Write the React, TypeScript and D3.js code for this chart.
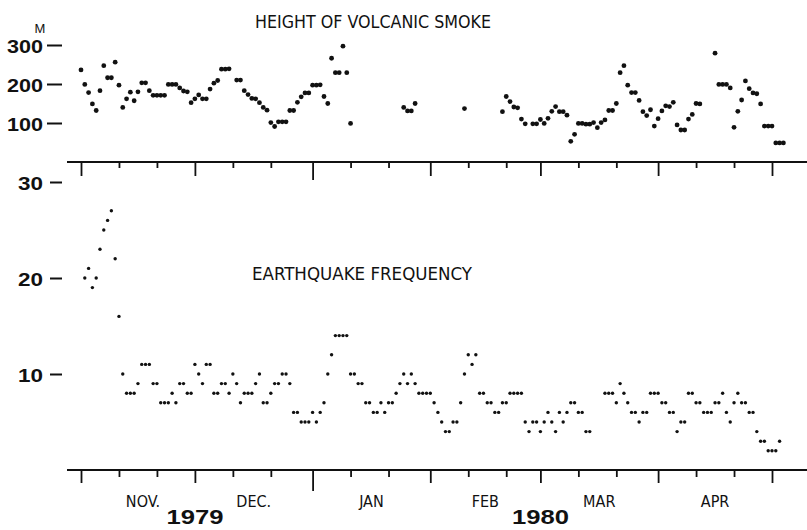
import * as React from "react";
import * as d3 from "d3";

// daily series, index 0 = 1 Nov 1979, null = no observation
const smokeHeight: (number | null)[] = [
  236, 199, 178, 149, 132, 183, 247, 216, 216, 256,
  197, 140, 162, 179, 157, 180, 203, 203, 183, 171,
  171, 171, 171, 199, 199, 199, 190, 182, 180, 152,
  162, 172, 162, 162, 187, 202, 209, 238, 238, 239,
  null, 210, 210, 183, 173, 163, 162, 152, 140, 133,
  101, 91, 103, 103, 103, 132, 132, 153, 167, 177,
  177, 197, 197, 198, 168, 150, 266, 229, 229, 297,
  229, 99, null, null, null, null, null, null, null, null,
  null, null, null, null, null, 140, 131, 131, 150, null,
  null, null, null, null, null, null, null, null, null, null,
  null, 137, null, null, null, null, null, null, null, null,
  null, 129, 168, 155, 141, 139, 110, 98, null, 98,
  98, 109, 99, 112, 130, 142, 129, 129, 120, 53,
  71, 99, 99, 97, 97, 101, 88, 101, 108, 132,
  132, 150, 229, 247, 197, 178, 178, 158, 129, 119,
  134, 92, 111, 131, 144, 142, 153, 95, 82, 82,
  110, 122, 150, 149, null, null, null, 279, 199, 199,
  199, 190, 89, 130, 159, 208, 188, 177, 175, 149,
  92, 92, 92, 49, 49, 49,
];

const quakeCount: (number | null)[] = [
  null, 20, 21, 19, 20, 23, 25, 26, 27, 22,
  16, 10, 8, 8, 8, 9, 11, 11, 11, 9,
  9, 7, 7, 7, 8, 7, 9, 9, 8, 8,
  11, 10, 9, 11, 11, 8, 8, 9, 9, 8,
  10, 9, 7, 8, 8, 8, 9, 10, 7, 7,
  8, 9, 9, 10, 10, 9, 6, 6, 5, 5,
  5, 6, 5, 6, 7, 10, 12, 14, 14, 14,
  14, 10, 10, 9, 9, 7, 7, 6, 6, 7,
  6, 7, 7, 8, 9, 10, 9, 10, 9, 8,
  8, 8, 8, 7, 6, 5, 4, 4, 5, 5,
  7, 10, 12, 11, 12, 8, 8, 7, 7, 6,
  6, 7, 7, 8, 8, 8, 8, 5, 4, 5,
  5, 4, 5, 6, 5, 4, 6, 5, 6, 7,
  7, 6, 6, 4, 4, null, null, null, 8, 8,
  8, 7, 9, 8, 7, 6, 6, 5, 6, 6,
  8, 8, 8, 7, 7, 6, 6, 4, 5, 5,
  8, 8, 7, 7, 6, 6, 6, 7, 7, 8,
  6, 5, 7, 8, 7, 7, 6, 6, 4, 3,
  3, 2, 2, 2, 3,
];

const smokeTicks = [100, 200, 300];
const quakeTicks = [10, 20, 30];
const monthLabels = ["NOV.", "DEC.", "JAN", "FEB", "MAR", "APR"];
const yearLabels = ["1979", "1980"];

const start = new Date(Date.UTC(1979, 10, 1));
const end = new Date(Date.UTC(1980, 4, 1));

const ink = "#111";
const numFont = "'Liberation Sans', Arial, sans-serif";
const narrowFont = "'DejaVu Sans Condensed', 'Liberation Sans Narrow', 'Roboto Condensed', 'DejaVu Sans', sans-serif";

function drawChart(el: SVGSVGElement) {
  const svg = d3.select(el);
  svg.selectAll("*").remove();

  const x = d3.scaleUtc().domain([start, end]).range([81, 772]);
  const ySmoke = d3.scaleLinear().domain([0, 300]).range([162, 45]);
  const yQuake = d3.scaleLinear().domain([0, 30]).range([470, 182]);
  const dayDate = (i: number) => d3.utcDay.offset(start, i);

  // ticks on the 1st, 11th and 21st of each month
  const tickDates = d3.utcDays(start, new Date(+end + 1)).filter(d => [1, 11, 21].includes(d.getUTCDate()));

  const timeAxis = (y: number, major: number, year: number, minor: number) => {
    svg.append("line")
      .attr("x1", 67).attr("x2", 807).attr("y1", y).attr("y2", y)
      .attr("stroke", ink).attr("stroke-width", 2);
    const g = svg.append("g").attr("transform", `translate(0,${y})`)
      .call(d3.axisBottom(x).tickValues(tickDates).tickFormat(() => "").tickSizeOuter(0));
    g.select(".domain").remove();
    g.selectAll<SVGLineElement, Date>(".tick line")
      .attr("stroke", ink).attr("stroke-width", 1.8)
      .attr("y2", d => d.getUTCDate() !== 1 ? minor : d.getUTCMonth() === 0 ? year : major);
  };
  timeAxis(162, 14, 18, 6);
  timeAxis(470, 13, 21, 7);

  const valueAxis = (scale: d3.ScaleLinear<number, number>, ticks: number[], size: number, pad: number) => {
    const g = svg.append("g").attr("transform", "translate(62,0)")
      .call(d3.axisLeft(scale).tickValues(ticks).tickSize(size).tickPadding(pad));
    g.select(".domain").remove();
    g.selectAll(".tick line").attr("stroke", ink).attr("stroke-width", 2);
    g.selectAll(".tick text")
      .attr("fill", ink).attr("font-family", numFont).attr("font-weight", "bold")
      .attr("font-size", 19).attr("dy", "0.42em").attr("textLength", ticks[0] >= 100 ? 36 : 25)
      .attr("lengthAdjust", "spacingAndGlyphs");
  };
  valueAxis(ySmoke, smokeTicks, 15, 4);
  valueAxis(yQuake, quakeTicks, 12, 7);

  svg.append("text").attr("x", 40).attr("y", 33).attr("text-anchor", "middle")
    .attr("font-family", numFont).attr("font-size", 13).attr("fill", ink).text("M");

  // points
  svg.append("g").selectAll("circle")
    .data(smokeHeight.map((v, i) => [i, v] as [number, number | null]).filter(d => d[1] != null))
    .join("circle")
    .attr("cx", d => x(dayDate(d[0])))
    .attr("cy", d => ySmoke(d[1] as number))
    .attr("r", 2.4).attr("fill", ink);

  svg.append("g").selectAll("circle")
    .data(quakeCount.map((v, i) => [i, v] as [number, number | null]).filter(d => d[1] != null))
    .join("circle")
    .attr("cx", d => x(dayDate(d[0])))
    .attr("cy", d => yQuake(d[1] as number))
    .attr("r", 1.7).attr("fill", ink);

  // titles
  const title = (t: string, tx: number, ty: number, w: number) =>
    svg.append("text").attr("x", tx).attr("y", ty)
      .attr("font-family", narrowFont).attr("font-size", 18).attr("fill", ink)
      .attr("textLength", w).attr("lengthAdjust", "spacingAndGlyphs").text(t);
  title("HEIGHT OF VOLCANIC SMOKE", 255, 28, 236);
  title("EARTHQUAKE FREQUENCY", 252, 280, 220);

  // month names centred between month ticks
  const months = d3.utcMonths(start, end);
  svg.append("g").selectAll("text").data(months).join("text")
    .attr("x", d => (x(d) + x(d3.utcMonth.offset(d, 1))) / 2 + (d.getUTCMonth() === 10 ? 5 : 0))
    .attr("y", 507).attr("text-anchor", "middle")
    .attr("font-family", narrowFont).attr("font-size", 16).attr("fill", ink)
    .text((d, i) => monthLabels[i]);

  // years under the 1 Dec and 1 Mar ticks
  const yearAt = [new Date(Date.UTC(1979, 11, 1)), new Date(Date.UTC(1980, 2, 1))];
  svg.append("g").selectAll("text").data(yearLabels).join("text")
    .attr("x", (d, i) => x(yearAt[i]))
    .attr("y", 524).attr("text-anchor", "middle")
    .attr("font-family", numFont).attr("font-weight", "bold").attr("font-size", 20)
    .attr("textLength", 57).attr("lengthAdjust", "spacingAndGlyphs")
    .attr("fill", ink).text(d => d);
}

const App = () => {
  const ref = React.useRef<SVGSVGElement>(null);
  React.useEffect(() => {
    if (ref.current) drawChart(ref.current);
  }, []);

  return (
    <svg ref={ref} width={807} height={530}
      style={{ position: "absolute", left: 0, top: 0, background: "#fff", display: "block" }} />
  );
};

export default App;
